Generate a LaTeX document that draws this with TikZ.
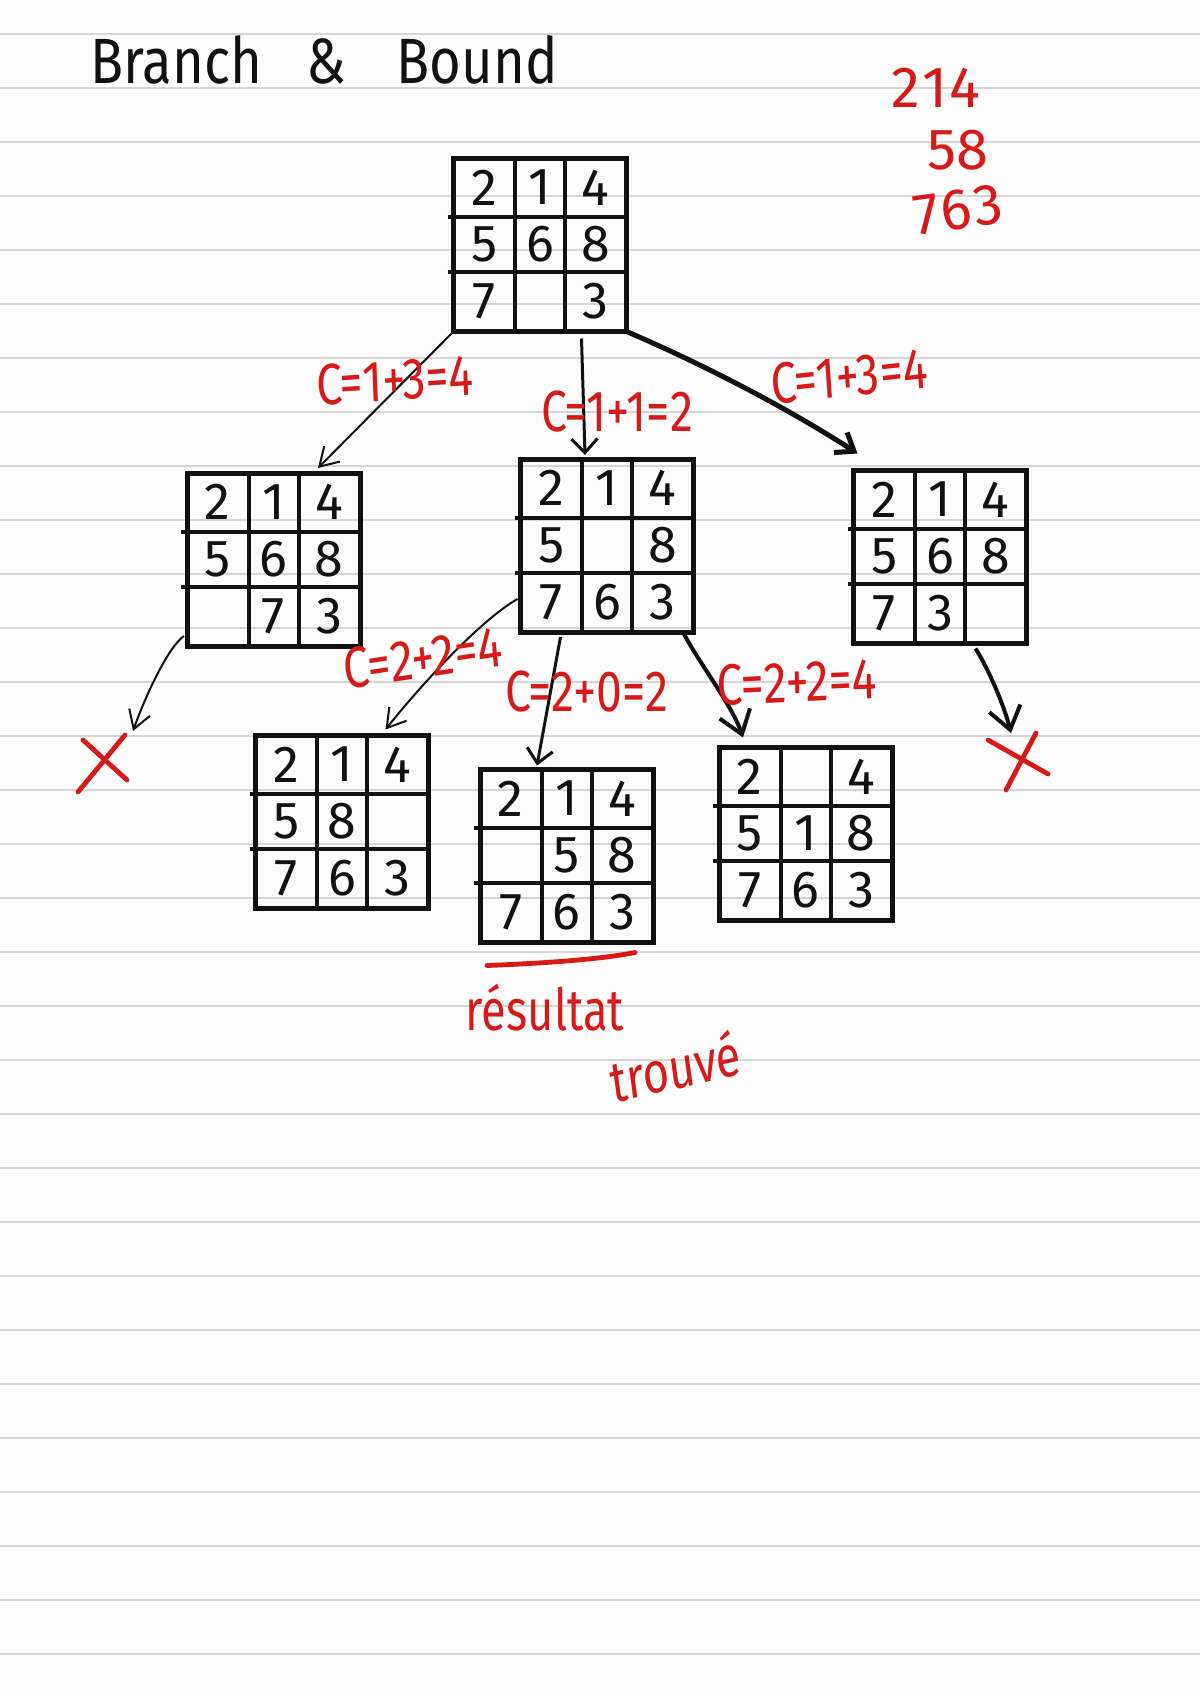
\documentclass[tikz,border=0pt]{standalone}
\usepackage{fontspec}
\setmainfont{Fira Sans}
\usetikzlibrary{arrows.meta,calc}
\definecolor{ink}{RGB}{17,17,17}
\definecolor{redink}{RGB}{214,26,26}
\definecolor{rulegray}{RGB}{214,214,214}
\definecolor{paper}{RGB}{252,252,252}
\tikzset{
  gridbox/.style={draw=ink, line width=2.5pt, inner sep=0pt, outer sep=0pt,
    minimum width=86.5pt, minimum height=86.5pt, anchor=north west},
  cellline/.style={draw=ink, line width=2pt},
  digitnum/.style={text=ink, font=\fontsize{26}{26}\selectfont, inner sep=0pt},
  ruleline/.style={draw=rulegray, line width=1pt},
  redlabel/.style={text=redink, font=\fontsize{29}{29}\selectfont, inner sep=0pt, xscale=0.8},
  reddigits/.style={text=redink, font=\fontsize{29}{29}\selectfont, inner sep=0pt},
  redword/.style={text=redink, font=\fontsize{29}{29}\selectfont, inner sep=0pt, xscale=0.78},
  titletext/.style={text=ink, font=\fontsize{32}{32}\selectfont, inner sep=0pt, xscale=0.85},
  redpen/.style={draw=redink, line width=2.4pt, line cap=round},
  thinarrow/.style={draw=ink, line width=1pt, -{Straight Barb[length=9pt,width=11pt]}},
  midarrow/.style={draw=ink, line width=1.5pt, -{Straight Barb[length=7pt,width=13pt]}},
  medarrow/.style={draw=ink, line width=2pt, -{Straight Barb[length=11pt,width=16pt]}},
  thickarrow/.style={draw=ink, line width=2.5pt, -{Straight Barb[length=8pt,width=12pt]}},
}
\newcommand\puzzle[5]{%
  \node[gridbox] (#1) at (#2) {};
  \begin{scope}[shift={(#2)}]
    \draw[cellline] (61.5,0) -- (61.5,173);
    \draw[cellline] (111.5,0) -- (111.5,173);
    \draw[cellline] (-6,58.5) -- (173,58.5);
    \draw[cellline] (-6,113.5) -- (173,113.5);
    \foreach \dg [count=\i] in {#3} \node[digitnum] (#1-a\i) at ({30.75+55.75*(\i-1)},29) {\dg};
    \foreach \dg [count=\i] in {#4} \node[digitnum] (#1-b\i) at ({30.75+55.75*(\i-1)},86) {\dg};
    \foreach \dg [count=\i] in {#5} \node[digitnum] (#1-c\i) at ({30.75+55.75*(\i-1)},143) {\dg};
  \end{scope}}
\begin{document}
\begin{tikzpicture}[x=0.5pt,y=-0.5pt]
\fill[paper] (0,0) rectangle (1200,1697);
\useasboundingbox (0,0) rectangle (1200,1697);
\foreach \k in {0,...,30} \draw[ruleline] (0,{34+54*\k}) -- (1200,{34+54*\k});

% title
\node[titletext, anchor=base west] (title) at (90,83) {Branch\hspace{26pt}\&\hspace{30pt}Bound};

% red notes top right
\node[reddigits] (n1) at (936,88) {2\hspace{1pt}1\hspace{1pt}4};
\node[reddigits] (n2) at (958,150) {58};
\node[reddigits, rotate=8] (n3) at (958,210) {7\hspace{1pt}6\hspace{1pt}3};

% puzzles
\puzzle{T}{453.5,158.5}{2,1,4}{5,6,8}{7,{},3}
\puzzle{L}{187,473}{2,1,4}{5,6,8}{{},7,3}
\puzzle{M}{520.5,459}{2,1,4}{5,{},8}{7,6,3}
\puzzle{R}{853.5,470.5}{2,1,4}{5,6,8}{7,3,{}}
\puzzle{BL}{255.5,735.5}{2,1,4}{5,8,{}}{7,6,3}
\puzzle{BM}{480,769.5}{2,1,4}{{},5,8}{7,6,3}
\puzzle{BR}{719,747.5}{2,{},4}{5,1,8}{7,6,3}

% crosses
\coordinate (X1) at (102,763);
\coordinate (X2) at (1020,762);
\draw[redpen] ($(X1)+(-19,-23)$) -- ($(X1)+(25,17)$);
\draw[redpen] ($(X1)+(-24,29)$) -- ($(X1)+(23,-28)$);
\draw[redpen] ($(X2)+(-32,-22)$) -- ($(X2)+(28,12)$);
\draw[redpen] ($(X2)+(16,-29)$) -- ($(X2)+(-14,28)$);

% connectors
\draw[thinarrow] (T.south west) -- ($(L.north west)+(131,-5)$);
\draw[midarrow] ($(T.south west)+(128,7)$) -- ($(M.north west)+(64.5,-4)$);
\draw[thickarrow] (T.south east) .. controls ($(T.south east)+(75,32)$) and ($(R.north west)+(-65,-62)$) .. ($(R.north west)+(4,-17)$);
\draw[thinarrow] ($(L.south west)+(-3,-10)$) .. controls ($(L.south west)+(-19,1)$) and ($(L.south west)+(-42,51)$) .. ($(X1)+(31,-32)$);
\draw[thinarrow] ($(M.south west)+(-3,-33)$) .. controls ($(M.south west)+(-40,-12)$) and ($(BL.north west)+(165,-50)$) .. ($(BL.north west)+(130,-6)$);
\draw[midarrow] ($(M.south west)+(40,5)$) -- ($(BM.north west)+(57,-4)$);
\draw[medarrow] ($(M.south east)+(-10,1)$) .. controls ($(M.south east)+(4.5,29.5)$) and ($(BR.north west)+(13,-42.5)$) .. ($(BR.north west)+(24,-10)$);
\draw[medarrow] ($(R.south west)+(122,5)$) .. controls ($(R.south west)+(134.5,24.5)$) and ($(X2)+(-16,-57)$) .. ($(X2)+(-9,-29)$);

% cost labels
\node[redlabel, rotate=3] (c1) at (395,380) {C=1+3=4};
\node[redlabel] (c2) at (617,412) {C=1+1=2};
\node[redlabel, rotate=5] (c3) at (849,376) {C=1+3=4};
\node[redlabel, rotate=7] (c4) at (423,658) {C=2+2=4};
\node[redlabel] (c5) at (587,692) {C=2+0=2};
\node[redlabel, rotate=2] (c6) at (797,682) {C=2+2=4};

% result
\draw[redpen] ($(BM.south west)+(7,23)$) .. controls ($(BM.south west)+(60,21)$) and ($(BM.south west)+(120,17)$) .. ($(BM.south west)+(155,10)$);
\node[redword] (res) at (545,1008) {résultat};
\node[redword, rotate=10] (trv) at (675,1066) {trouvé};
\end{tikzpicture}
\end{document}
